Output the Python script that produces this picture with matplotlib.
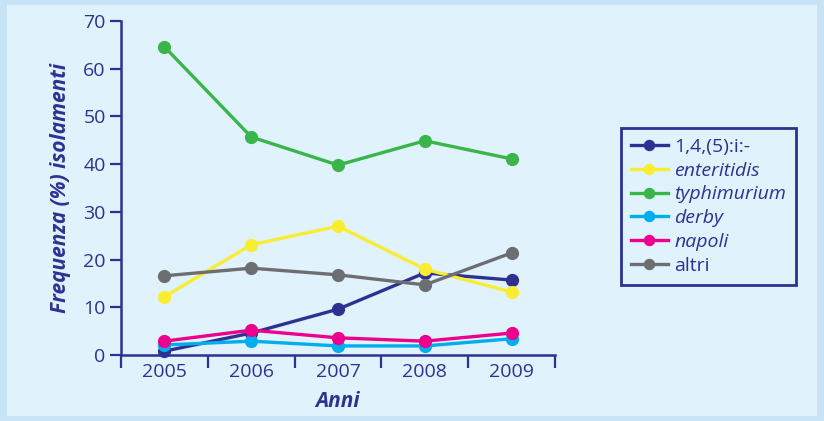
import matplotlib
matplotlib.use("Agg")
import matplotlib.pyplot as plt
from matplotlib.patches import Rectangle

anni = ["2005", "2006", "2007", "2008", "2009"]
serie = ["1,4,(5):i:-", "enteritidis", "typhimurium", "derby", "napoli", "altri"]
v_monofasica = [0.8, 4.6, 9.6, 17.2, 15.7]
v_enteritidis = [12.2, 23.1, 27.0, 18.0, 13.2]
v_typhimurium = [64.6, 45.7, 39.8, 44.9, 41.1]
v_derby = [2.1, 2.9, 1.9, 1.9, 3.4]
v_napoli = [2.9, 5.2, 3.6, 2.9, 4.6]
v_altri = [16.6, 18.2, 16.8, 14.7, 21.4]
valori = [v_monofasica, v_enteritidis, v_typhimurium, v_derby, v_napoli, v_altri]
colori = ["#2e3192", "#f9ed32", "#39b54a", "#00aeef", "#ec008c", "#6d6e71"]
corsivo = [False, True, True, True, True, False]

navy = "#2e3192"
sfondo = "#e0f2fc"
plt.rcParams["font.family"] = ["Open Sans", "DejaVu Sans"]

fig = plt.figure(figsize=(8.24, 4.21), dpi=100)
fig.patch.set_facecolor("#c8e2f6")
fig.patches.append(Rectangle((7 / 824, 5 / 421), 810 / 824, 411 / 421,
                             transform=fig.transFigure, facecolor=sfondo,
                             edgecolor="none", zorder=-10))

ax = fig.add_axes([121 / 824, 1 - 355 / 421, 434 / 824, 334 / 421])
ax.set_facecolor("none")

x = list(range(len(anni)))
linee = []
for nome, v, c in zip(serie, valori, colori):
    l, = ax.plot(x, v, color=c, lw=2.4, marker="o", ms=8.5, label=nome,
                 clip_on=False)
    linee.append(l)

ax.set_xlim(-0.5, 4.5)
ax.set_ylim(0, 70)
ax.set_yticks(range(0, 71, 10))
ax.set_xticks([i - 0.5 for i in range(6)])
ax.set_xticklabels([])
ax.set_xticks(x, minor=True)
ax.set_xticklabels(anni, minor=True)
ax.tick_params(axis="x", which="minor", length=0, pad=6, labelsize=14,
               labelcolor=navy)
ax.tick_params(axis="x", which="major", length=9, width=1.6, color=navy)
ax.tick_params(axis="y", length=8, width=1.6, color=navy, labelsize=14,
               labelcolor=navy, pad=3)

for s in ["top", "right"]:
    ax.spines[s].set_visible(False)
for s in ["left", "bottom"]:
    ax.spines[s].set_color(navy)
    ax.spines[s].set_linewidth(1.8)

ax.set_xlabel("Anni", fontsize=15, fontweight="bold", fontstyle="italic",
              color=navy, labelpad=7)
ax.set_ylabel("Frequenza (%) isolamenti", fontsize=15, fontweight="bold",
              fontstyle="italic", color=navy, labelpad=9)

leg = fig.legend(handles=linee, loc="upper left",
                 bbox_to_anchor=(621 / 824, 1 - 128 / 421), borderaxespad=0,
                 frameon=True, fancybox=False, fontsize=14, handlelength=1.9,
                 handletextpad=0.35, labelspacing=0.3, borderpad=0.5,
                 markerscale=0.85, framealpha=1)
leg.get_frame().set_edgecolor(navy)
leg.get_frame().set_linewidth(2)
leg.get_frame().set_facecolor(sfondo)
for t, it in zip(leg.get_texts(), corsivo):
    t.set_color(navy)
    if it:
        t.set_fontstyle("italic")

fig.savefig("out.png", dpi=100, facecolor=fig.get_facecolor())
